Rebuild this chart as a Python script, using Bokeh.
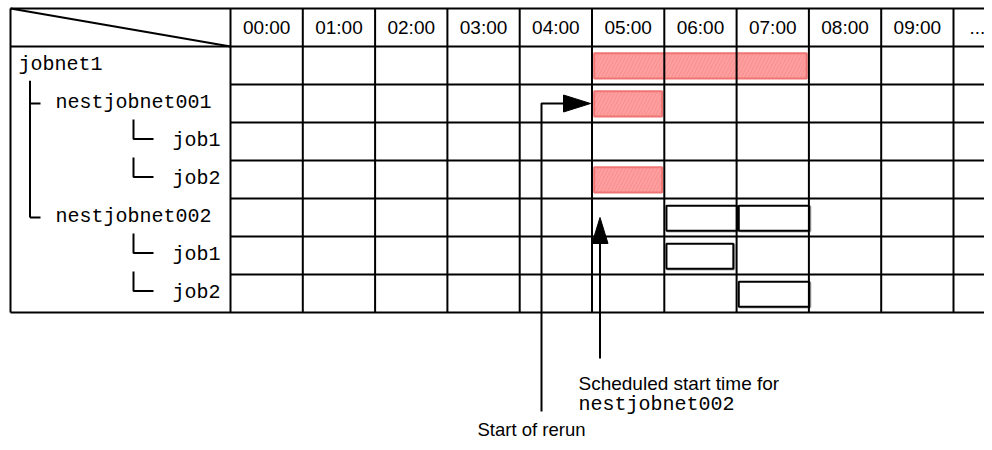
from bokeh.plotting import figure
from bokeh.models import Range1d
from bokeh.core.properties import value
from bokeh.embed import file_html
from bokeh.resources import INLINE

# ---------------- data ----------------
hour_labels = ["00:00", "01:00", "02:00", "03:00", "04:00", "05:00",
               "06:00", "07:00", "08:00", "09:00", "..."]
row_names = ["jobnet1", "nestjobnet001", "job1", "job2",
             "nestjobnet002", "job1", "job2"]
row_levels = [0, 1, 2, 2, 1, 2, 2]

# rerun (hatched red) bars: row index, start hour, end hour
rerun_rows = [0, 1, 3]
rerun_start = [5.0, 5.0, 5.0]
rerun_end = [8.0, 6.0, 6.0]

# scheduled (white) bars
sched_rows = [4, 4, 5, 6]
sched_start = [6.0, 7.0, 6.0, 7.0]
sched_end = [7.0, 8.0, 6.95, 8.0]

rerun_label = "Start of rerun"
sched_label_1 = "Scheduled start time for"
sched_label_2 = "nestjobnet002"

# ---------------- layout helpers (picture pixels -> data) ----------------
COL_PX = 72.3      # width of one hour column
X0_PX = 230.0      # x of 00:00
ROW_PX = 38.0      # height of one row
Y0_PX = 46.0       # y of first row top
W, H = 984, 442


def X(px):
    return (px - X0_PX) / COL_PX


def Y(py):
    return (py - Y0_PX) / ROW_PX


p = figure(width=W, height=H, output_backend="svg", toolbar_location=None,
           x_range=Range1d(X(0), X(W)), y_range=Range1d(Y(H), Y(0)),
           x_axis_location=None, y_axis_location=None, min_border=0,
           outline_line_color=None, background_fill_color="white",
           border_fill_color="white")
p.grid.visible = False

n_rows = len(row_names)
n_cols = len(hour_labels)
LW = 2
RIGHT = X(1010)

# ---------------- bars ----------------
inset = 0.03
# faint shadow of the scheduled bars
p.quad(left=[s + inset + 0.015 for s in sched_start], right=[e + 0.02 for e in sched_end],
       top=[r + 0.21 for r in sched_rows], bottom=[r + 0.87 for r in sched_rows],
       fill_color=None, line_color="#b0b0b0", line_width=2)
p.quad(left=[s + inset for s in rerun_start], right=[e - inset for e in rerun_end],
       top=[r + 0.18 for r in rerun_rows], bottom=[r + 0.84 for r in rerun_rows],
       fill_color="#ff9e9e", line_color="#f07474", line_width=2,
       hatch_pattern="/", hatch_color="#e07272", hatch_alpha=0.35,
       hatch_scale=7, hatch_weight=1)

p.quad(left=[s + inset for s in sched_start], right=[e + 0.005 for e in sched_end],
       top=[r + 0.19 for r in sched_rows], bottom=[r + 0.85 for r in sched_rows],
       fill_color="white", line_color="#000000", line_width=2)

# ---------------- grid / table ----------------
xs0, ys0, xs1, ys1 = [], [], [], []
for r in range(1, n_rows):
    xs0.append(0); xs1.append(RIGHT); ys0.append(r); ys1.append(r)
for yy in (-1, 0, n_rows):
    xs0.append(X(10)); xs1.append(RIGHT); ys0.append(yy); ys1.append(yy)
for c in range(0, n_cols):
    xs0.append(c); xs1.append(c); ys0.append(-1); ys1.append(n_rows)
xs0.append(X(10)); xs1.append(X(10)); ys0.append(-1); ys1.append(n_rows)
xs0.append(X(10)); xs1.append(0); ys0.append(-1); ys1.append(0)
p.segment(x0=xs0, y0=ys0, x1=xs1, y1=ys1, line_color="black", line_width=LW)

# ---------------- header labels ----------------
hx = [i + 0.5 for i in range(n_cols - 1)] + [n_cols - 1 + 0.33]
p.text(x=hx, y=[-0.5] * n_cols, text=hour_labels,
       text_font=value("Liberation Sans"), text_font_size="19px",
       text_align="center", text_baseline="middle", text_color="black")

# ---------------- row labels ----------------
level_px = [18, 55, 172]
p.text(x=[X(level_px[l]) for l in row_levels],
       y=[r + 0.47 for r in range(n_rows)], text=row_names,
       text_font=value("Liberation Mono"), text_font_size="20px",
       text_align="left", text_baseline="middle", text_color="black")

# ---------------- tree connectors ----------------
tx, ty = [], []
lvl1 = [i for i, l in enumerate(row_levels) if l == 1]
tx.append([X(29.5), X(29.5)]); ty.append([0.9, lvl1[-1] + 0.5])
for r in lvl1:
    tx.append([X(29.5), X(40)]); ty.append([r + 0.5, r + 0.5])
for r, l in enumerate(row_levels):
    if l == 2:
        tx.append([X(133), X(133), X(153)])
        ty.append([r - 3 / ROW_PX, r + 16.5 / ROW_PX, r + 16.5 / ROW_PX])
p.multi_line(xs=tx, ys=ty, line_color="black", line_width=LW)

# ---------------- arrows ----------------
p.line(x=[X(541), X(541), X(565)], y=[Y(411), 1.5, 1.5],
       line_color="black", line_width=LW)
p.patch(x=[X(563), 5.0 - 0.02, X(563)],
        y=[1.5 - 8.5 / ROW_PX, 1.5, 1.5 + 8.5 / ROW_PX], color="black")
p.line(x=[X(599.5), X(599.5)], y=[Y(358), Y(241)], line_color="black", line_width=LW)
p.patch(x=[X(591.5), X(599.5), X(607.5)], y=[Y(243), 4.5, Y(243)], color="black")

# ---------------- annotation texts ----------------
p.text(x=[X(578)], y=[Y(383)], text=[sched_label_1],
       text_font=value("Liberation Sans"), text_font_size="19px",
       text_align="left", text_baseline="alphabetic", text_color="black")
p.text(x=[X(578)], y=[Y(404)], text=[sched_label_2],
       text_font=value("Liberation Mono"), text_font_size="20px",
       text_align="left", text_baseline="alphabetic", text_color="black")
p.text(x=[X(477)], y=[Y(429)], text=[rerun_label],
       text_font=value("Liberation Sans"), text_font_size="18.5px",
       text_align="left", text_baseline="alphabetic", text_color="black")

open("out.html", "w").write(file_html(p, INLINE))
